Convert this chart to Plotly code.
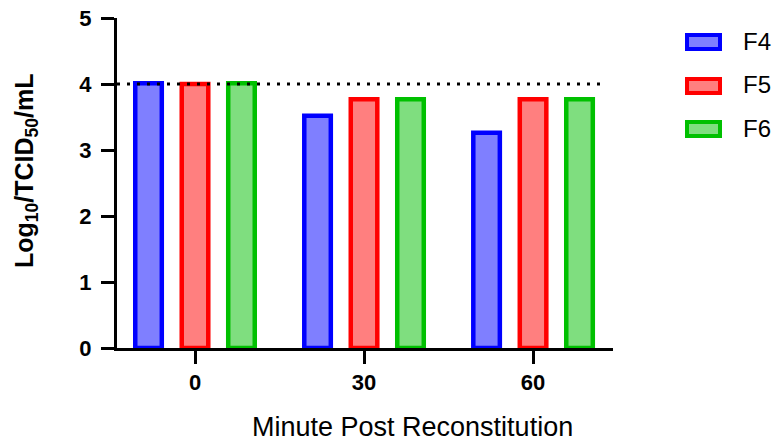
import plotly.graph_objects as go

categories = ["0", "30", "60"]
series_names = ["F4", "F5", "F6"]
f4 = [4.01, 3.52, 3.26]
f5 = [4.00, 3.77, 3.77]
f6 = [4.01, 3.77, 3.77]
series_values = [f4, f5, f6]
reference_level = 4.0
x_title = "Minute Post Reconstitution"
y_title = "Log<sub>10</sub>/TCID<sub>50</sub>/mL"

line_colors = ["#0000ff", "#ff0000", "#00c000"]
fill_colors = ["rgba(0,0,255,0.5)", "rgba(255,0,0,0.5)", "rgba(0,190,0,0.5)"]
centers = [-0.275, 0.0, 0.275]
bar_w = 0.157

# plot-area geometry (pixels)
L, R, T, B = 117, 613, 18, 348
W, H = 774, 443


def px(x):
    return (x - L) / (R - L)


def py(y):
    return (B - y) / (B - T)


fig = go.Figure()
for name, vals, lc, fc, c in zip(series_names, series_values, line_colors, fill_colors, centers):
    fig.add_trace(go.Bar(
        x=categories, y=vals, name=name,
        width=bar_w, offset=c - bar_w / 2,
        marker=dict(color=fc, line=dict(color=lc, width=4.5)),
        showlegend=False, hoverinfo="skip",
    ))

fig.add_shape(type="line", xref="paper", yref="y", x0=0, x1=px(603),
              y0=reference_level, y1=reference_level,
              line=dict(color="black", width=3, dash="3px,7px"), layer="above")

# custom legend
legend_y = [42, 86, 129]
for name, lc, fc, ly in zip(series_names, line_colors, fill_colors, legend_y):
    fig.add_shape(type="rect", xref="paper", yref="paper",
                  x0=px(687), x1=px(720), y0=py(ly + 7), y1=py(ly - 7),
                  fillcolor=fc, line=dict(color=lc, width=4))
    fig.add_annotation(xref="paper", yref="paper", x=px(741), y=py(ly - 1),
                       text=name, showarrow=False, xanchor="left", yanchor="middle",
                       font=dict(size=24, color="black"))

fig.add_annotation(xref="paper", yref="paper", x=px(412), y=py(443),
                   text=x_title, showarrow=False, borderpad=0,
                   xanchor="center", yanchor="bottom",
                   font=dict(size=27, color="black"))

fig.add_annotation(xref="paper", yref="paper", x=px(26), y=py(171),
                   text=y_title, showarrow=False, textangle=-90,
                   xanchor="center", yanchor="middle",
                   font=dict(size=25, color="black", weight="bold"))

fig.update_layout(
    width=W, height=H,
    margin=dict(l=L, r=W - R, t=T, b=H - B, autoexpand=False),
    plot_bgcolor="white", paper_bgcolor="white",
    barmode="overlay",
    font=dict(family="Liberation Sans, Arial", color="black"),
    showlegend=False,
    xaxis=dict(
        type="category", range=[-0.4615, 2.473], automargin=False,
        showline=True, linecolor="black", linewidth=3,
        ticks="outside", ticklen=13, tickwidth=3, tickcolor="black",
        tickfont=dict(size=22, family="Liberation Sans, Arial", weight="bold"),
        showgrid=False, zeroline=False,
    ),
    yaxis=dict(
        range=[0, 5], dtick=1, automargin=False,
        showline=True, linecolor="black", linewidth=3,
        ticks="outside", ticklen=13, tickwidth=3, tickcolor="black",
        ticklabelstandoff=5,
        tickfont=dict(size=22, family="Liberation Sans, Arial", weight="bold"),
        showgrid=False, zeroline=False,
    ),
)

fig.write_html("out.html", config={"displayModeBar": False},
               post_script="document.body.style.margin='0px';")
